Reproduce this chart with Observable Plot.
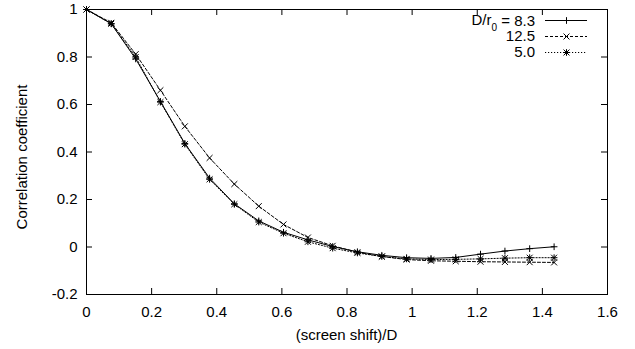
<!DOCTYPE html>
<html><head><meta charset="utf-8">
<script src="https://cdn.jsdelivr.net/npm/d3@7"></script>
<script src="https://cdn.jsdelivr.net/npm/@observablehq/plot@0.6"></script>
<style>body{margin:0;background:#fff}#chart{width:635px;height:349px}</style>
</head><body><div id="chart"></div>
<script>
// ---- data ----
const screenShift = [0, 0.076, 0.151, 0.227, 0.302, 0.378, 0.454, 0.529, 0.605, 0.680, 0.756, 0.832, 0.907, 0.983, 1.058, 1.134, 1.210, 1.285, 1.361, 1.436];
const corr83  = [1, 0.940, 0.792, 0.613, 0.436, 0.290, 0.182, 0.110, 0.062, 0.030, 0.002, -0.020, -0.035, -0.045, -0.048, -0.044, -0.030, -0.017, -0.007, 0.001];
const corr125 = [1, 0.944, 0.812, 0.660, 0.508, 0.375, 0.265, 0.172, 0.095, 0.040, 0.005, -0.022, -0.040, -0.053, -0.058, -0.060, -0.062, -0.063, -0.064, -0.065];
const corr50  = [1, 0.940, 0.800, 0.610, 0.433, 0.285, 0.180, 0.105, 0.058, 0.022, -0.005, -0.025, -0.040, -0.050, -0.053, -0.052, -0.050, -0.047, -0.045, -0.045];
const seriesLabels = ["8.3", "12.5", "5.0"];
const xTicks = [0, 0.2, 0.4, 0.6, 0.8, 1, 1.2, 1.4, 1.6];
const xTickLabels = ["0", "0.2", "0.4", "0.6", "0.8", "1", "1.2", "1.4", "1.6"];
const yTicks = [-0.2, 0, 0.2, 0.4, 0.6, 0.8, 1];
const yTickLabels = ["-0.2", "0", "0.2", "0.4", "0.6", "0.8", "1"];
const xTitle = "(screen shift)/D";
const yTitle = "Correlation coefficient";

// ---- layout / style ----
const W = 635, H = 349, mL = 86, mR = 28, mT = 9, mB = 55;
const innerW = W - mL - mR, innerH = H - mT - mB;
const font = "'Liberation Sans', Arial, Helvetica, sans-serif";
const styles = [
  {dash: null, symbols: ["plus"]},
  {dash: "3,2", symbols: ["times"]},
  {dash: "1.2,1.8", symbols: ["plus", "times"]}
];
const rPlus = 2.3, rTimes = 2.8;
const series = [corr83, corr125, corr50];
const rows = series.map(vals => vals.map((v, i) => ({x: screenShift[i], y: v})));

const tickStyle = {stroke: "#000", strokeOpacity: 1, strokeWidth: 1};
const marks = [
  Plot.gridX(xTicks, {...tickStyle, insetTop: innerH - 6}),
  Plot.gridX(xTicks, {...tickStyle, insetBottom: innerH - 6}),
  Plot.gridY(yTicks, {...tickStyle, insetRight: innerW - 6}),
  Plot.gridY(yTicks, {...tickStyle, insetLeft: innerW - 6}),
  Plot.axisX(xTicks, {tickSize: 0, tickPadding: 12, tickFormat: d => xTickLabels[xTicks.indexOf(d)], label: null}),
  Plot.axisY(yTicks, {tickSize: 0, tickPadding: 9, tickFormat: d => yTickLabels[yTicks.indexOf(d)], label: null}),
  Plot.frame({stroke: "#000", strokeWidth: 1})
];
rows.forEach((data, k) => {
  marks.push(Plot.line(data, {x: "x", y: "y", stroke: "#000", strokeWidth: 1, strokeDasharray: styles[k].dash}));
  styles[k].symbols.forEach(s => {
    marks.push(Plot.dot(data, {x: "x", y: "y", symbol: s, r: s === "plus" ? rPlus : rTimes, stroke: "#000", strokeWidth: 1}));
  });
});

const chart = Plot.plot({
  width: W, height: H,
  marginLeft: mL, marginRight: mR, marginTop: mT, marginBottom: mB,
  style: {fontFamily: font, fontSize: "15px", color: "#000", background: "#fff", overflow: "visible"},
  x: {domain: [0, 1.6], label: null},
  y: {domain: [-0.2, 1], label: null},
  marks
});
document.getElementById("chart").appendChild(chart);

// ---- axis titles and key (text) ----
const svg = d3.select(chart);
svg.append("text")
  .attr("x", mL + innerW / 2).attr("y", 335).attr("dy", "0.35em")
  .attr("text-anchor", "middle").attr("font-family", font).attr("font-size", 15).attr("fill", "#000")
  .text(xTitle);
svg.append("text")
  .attr("transform", "translate(22,157) rotate(-90)").attr("dy", "0.35em")
  .attr("text-anchor", "middle").attr("font-family", font).attr("font-size", 15).attr("fill", "#000")
  .text(yTitle);

const key = svg.append("g");
seriesLabels.forEach((lab, k) => {
  const yy = 20 + 16 * k;
  const t = key.append("text").attr("x", 535).attr("y", yy).attr("dy", "0.35em")
    .attr("text-anchor", "end").attr("font-family", font).attr("font-size", 15).attr("fill", "#000");
  if (k === 0) {
    t.append("tspan").text("D/r");
    t.append("tspan").attr("font-size", 10).attr("dy", "0.55em").text("0");
    t.append("tspan").attr("dy", "-0.35em").text(" = " + lab);
  } else {
    t.text(lab);
  }
  key.append("line").attr("x1", 545).attr("x2", 587).attr("y1", yy + 0.5).attr("y2", yy + 0.5)
    .attr("stroke", "#000").attr("stroke-width", 1).attr("stroke-dasharray", styles[k].dash);
  styles[k].symbols.forEach(s => {
    const r = s === "plus" ? rPlus : rTimes;
    key.append("path")
      .attr("transform", `translate(566.5,${yy + 0.5})`)
      .attr("d", d3.symbol(s === "plus" ? d3.symbolPlus : d3.symbolTimes, r * r * Math.PI)())
      .attr("fill", "none").attr("stroke", "#000").attr("stroke-width", 1);
  });
});
</script>
</body></html>
